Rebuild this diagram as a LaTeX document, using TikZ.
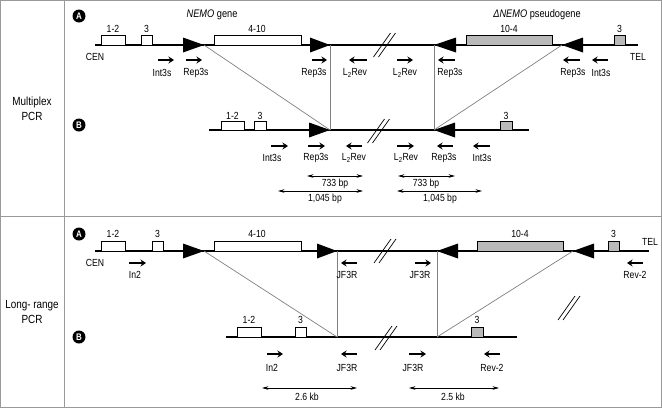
\documentclass[tikz,border=0pt]{standalone}
\usepackage{fontspec}
\setmainfont[FakeStretch=0.84]{Liberation Sans}
\usetikzlibrary{arrows.meta}
\begin{document}
\begin{tikzpicture}[x=1pt,y=-1pt,
  chrom/.style={line width=1.6pt},
  exonbox/.style={draw, line width=1pt, fill=white},
  psbox/.style={draw, line width=1pt, fill=gray!55},
  lbl/.style={font=\fontsize{10.3}{11}\selectfont, inner sep=0pt},
  ttl/.style={font=\fontsize{11}{12}\selectfont, inner sep=0pt},
  primer/.style={line width=1.3pt, -{Stealth[length=5.5pt,width=7pt]}},
  sizearr/.style={line width=0.7pt, {Stealth[length=6.5pt,width=3.6pt]}-{Stealth[length=6.5pt,width=3.6pt]}},
  link/.style={draw=gray, line width=0.7pt},
  brk/.style={line width=0.7pt},
  frame/.style={draw=gray!80, line width=0.8pt},
  badge/.style={circle, fill=black, text=white, inner sep=0pt, minimum size=13pt, font=\bfseries\fontsize{9.5}{9.5}\selectfont},
  side/.style={font=\fontsize{11.8}{14.5}\selectfont, align=center, inner sep=0pt}
]
\useasboundingbox (0,0) rectangle (662,408);
% frame
\draw[frame] (0.5,0.5) rectangle (661.5,407.5);
\draw[frame] (64,0.5) -- (64,407.5);
\draw[frame] (0.5,216) -- (661.5,216);
\node[side] (mpcr) at (32,109) {Multiplex\\PCR};
\node[side] (lpcr) at (32,312) {Long- range\\PCR};

% ================= MULTIPLEX =================
\node[badge] (mA) at (79,16) {A};
\node[badge] (mB) at (79,125) {B};
\node[ttl] (nemo) at (212,15) {\textit{NEMO} gene};
\node[ttl] (dnemo) at (537,15) {\textit{ΔNEMO} pseudogene};

% line A
\coordinate (mAl) at (95,45); \coordinate (mAr) at (638,45);
\draw[chrom] (mAl) -- (mAr);
\node[lbl] (cen1) at (95,57) {CEN};
\node[lbl] (tel1) at (638,57) {TEL};
\draw[exonbox] (101,35) rectangle (125,45); \node[lbl] at (113,29) {1-2};
\draw[exonbox] (141,35) rectangle (152,45); \node[lbl] at (146.5,29) {3};
\draw[exonbox] (214,35) rectangle (301,45); \node[lbl] at (257,29) {4-10};
\draw[psbox] (466,35) rectangle (552,45); \node[lbl] at (509,29) {10-4};
\draw[psbox] (614,35) rectangle (625,45); \node[lbl] at (619.5,29) {3};
\fill (183,37.5) -- (183,52.5) -- (204,45) coordinate (mAt1) -- cycle;
\fill (310,37.5) -- (310,52.5) -- (330,45) coordinate (mAt2) -- cycle;
\fill (456,37.5) -- (456,52.5) -- (434,45) coordinate (mAt3) -- cycle;
\fill (583,37.5) -- (583,52.5) -- (562,45) coordinate (mAt4) -- cycle;
\draw[brk] (373.5,57) -- (390.5,33) (378.5,57) -- (395.5,33);

% line B
\coordinate (mBl) at (209,130); \coordinate (mBr) at (529,130);
\draw[chrom] (mBl) -- (mBr);
\draw[exonbox] (221,121) rectangle (244,130); \node[lbl] at (232.5,116) {1-2};
\draw[exonbox] (254,121) rectangle (266,130); \node[lbl] at (260,116) {3};
\draw[psbox] (500,121) rectangle (512,130); \node[lbl] at (506,116) {3};
\fill (309,122.5) -- (309,137.5) -- (330,130) coordinate (mBt1) -- cycle;
\fill (455,122.5) -- (455,137.5) -- (434,130) coordinate (mBt2) -- cycle;
\draw[brk] (367.5,143) -- (384.5,119) (372.5,143) -- (389.5,119);

% links
\draw[link] (mAt1) -- (mBt1);
\draw[link] (mAt2) -- (mBt1);
\draw[link] (mAt3) -- (mBt2);
\draw[link] (mAt4) -- (mBt2);

% primers A
\draw[primer] (158,60) -- (174,60); \node[lbl] at (162,73) {Int3s};
\draw[primer] (186,60) -- (202,60); \node[lbl] at (196,73) {Rep3s};
\draw[primer] (312,60) -- (327,60); \node[lbl] at (314,73) {Rep3s};
\draw[primer] (367,60) -- (349,60); \node[lbl] at (355,73) {L\textsubscript{2}Rev};
\draw[primer] (397,60) -- (413,60); \node[lbl] at (405,73) {L\textsubscript{2}Rev};
\draw[primer] (455,60) -- (438,60); \node[lbl] at (450,73) {Rep3s};
\draw[primer] (580,60) -- (563,60); \node[lbl] at (573,73) {Rep3s};
\draw[primer] (608,60) -- (592,60); \node[lbl] at (601,73) {Int3s};

% primers B
\draw[primer] (271,146) -- (288,146); \node[lbl] at (272,158) {Int3s};
\draw[primer] (308,146) -- (325,146); \node[lbl] at (316,158) {Rep3s};
\draw[primer] (362,146) -- (346,146); \node[lbl] at (354,158) {L\textsubscript{2}Rev};
\draw[primer] (397,146) -- (414,146); \node[lbl] at (406,158) {L\textsubscript{2}Rev};
\draw[primer] (453,146) -- (437,146); \node[lbl] at (444,158) {Rep3s};
\draw[primer] (490,146) -- (473,146); \node[lbl] at (482,158) {Int3s};

% sizes
\draw[sizearr] (307,176) -- (363,176); \node[lbl] at (335,184) {733 bp};
\draw[sizearr] (278,191) -- (363,191); \node[lbl] at (325,199) {1,045 bp};
\draw[sizearr] (398,176) -- (455,176); \node[lbl] at (426,184) {733 bp};
\draw[sizearr] (397,191) -- (482,191); \node[lbl] at (440,199) {1,045 bp};

% ================= LONG-RANGE =================
\node[badge] (lA) at (79,234) {A};
\node[badge] (lB) at (79,337) {B};

% line A
\coordinate (lAl) at (95,251); \coordinate (lAr) at (649,251);
\draw[chrom] (lAl) -- (lAr);
\node[lbl] (cen2) at (95,263) {CEN};
\node[lbl] (tel2) at (650,242) {TEL};
\draw[exonbox] (101,241) rectangle (125,251); \node[lbl] at (113,234) {1-2};
\draw[exonbox] (152,241) rectangle (163,251); \node[lbl] at (157.5,234) {3};
\draw[exonbox] (214,241) rectangle (301,251); \node[lbl] at (257,234) {4-10};
\draw[psbox] (477,241) rectangle (563,251); \node[lbl] at (520,234) {10-4};
\draw[psbox] (608,241) rectangle (619,251); \node[lbl] at (613.5,234) {3};
\fill (183,243.5) -- (183,258.5) -- (204,251) coordinate (lAt1) -- cycle;
\fill (317,243.5) -- (317,258.5) -- (337,251) coordinate (lAt2) -- cycle;
\fill (458,243.5) -- (458,258.5) -- (437,251) coordinate (lAt3) -- cycle;
\fill (594,243.5) -- (594,258.5) -- (573,251) coordinate (lAt4) -- cycle;
\draw[brk] (374,263) -- (391,239) (379,263) -- (396,239);
\draw[brk] (558,320) -- (575,296) (563,320) -- (580,296);

% line B
\coordinate (lBl) at (226,337); \coordinate (lBr) at (517,337);
\draw[chrom] (lBl) -- (lBr);
\coordinate (lBt1) at (337,337); \coordinate (lBt2) at (437,337);
\draw[exonbox] (237,327) rectangle (261,337); \node[lbl] at (249,320) {1-2};
\draw[exonbox] (295,327) rectangle (306,337); \node[lbl] at (300.5,320) {3};
\draw[psbox] (471,327) rectangle (483,337); \node[lbl] at (477,320) {3};
\draw[brk] (375,350) -- (392,326) (380,350) -- (397,326);

% links
\draw[link] (lAt1) -- (lBt1);
\draw[link] (lAt2) -- (lBt1);
\draw[link] (lAt3) -- (lBt2);
\draw[link] (lAt4) -- (lBt2);

% primers A
\draw[primer] (129,263) -- (146,263); \node[lbl] at (135,275) {In2};
\draw[primer] (357,263) -- (341,263); \node[lbl] at (347,275) {JF3R};
\draw[primer] (415,263) -- (431,263); \node[lbl] at (420,275) {JF3R};
\draw[primer] (643,263) -- (627,263); \node[lbl] at (635,275) {Rev-2};

% primers B
\draw[primer] (267,354) -- (283,354); \node[lbl] at (272,368) {In2};
\draw[primer] (357,354) -- (341,354); \node[lbl] at (347,368) {JF3R};
\draw[primer] (409,354) -- (426,354); \node[lbl] at (413,368) {JF3R};
\draw[primer] (500,354) -- (484,354); \node[lbl] at (492,368) {Rev-2};

% sizes
\draw[sizearr] (262,388) -- (357,388); \node[lbl] at (307,397) {2.6 kb};
\draw[sizearr] (409,388) -- (499,388); \node[lbl] at (453,397) {2.5 kb};
\end{tikzpicture}
\end{document}
